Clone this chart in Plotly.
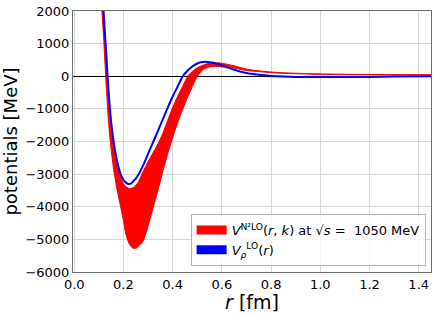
import plotly.graph_objects as go

# radial distance r [fm]
r = [0.10, 0.11, 0.12, 0.13, 0.14, 0.15, 0.16, 0.17, 0.18, 0.19, 0.20, 0.21, 0.22, 0.23,
     0.24, 0.25, 0.26, 0.28, 0.30, 0.32, 0.34, 0.36, 0.38, 0.40, 0.42, 0.44, 0.46, 0.48,
     0.50, 0.52, 0.54, 0.56, 0.58, 0.60, 0.65, 0.70, 0.75, 0.80, 0.85, 0.90, 1.00, 1.10,
     1.20, 1.30, 1.45]

# V^{N2LO}(r,k) band: upper and lower edges [MeV]
n2lo_upper = [4300, 2900, 1650, 400, -900, -1650, -2150, -2550, -2900, -3130, -3290, -3380,
              -3430, -3440, -3410, -3340, -3250, -2920, -2620, -2350, -2080, -1750, -1350,
              -960, -620, -320, -10, 150, 260, 330, 380, 405, 410, 400, 320, 220, 165, 130,
              105, 92, 72, 62, 55, 50, 45]
n2lo_lower = [3800, 2300, 1100, -300, -1450, -2250, -2850, -3300, -3700, -4050, -4430, -4850,
              -5080, -5210, -5275, -5275, -5220, -5050, -4600, -4050, -3500, -2920, -2380,
              -1880, -1430, -1030, -660, -320, -10, 180, 270, 300, 300, 285, 250, 175, 140,
              110, 90, 78, 58, 48, 42, 38, 35]

# V_rho^{LO}(r) [MeV]
v_rho = [4500, 3200, 1900, 700, -500, -1400, -2000, -2450, -2780, -3030, -3180, -3260,
         -3300, -3290, -3220, -3140, -3030, -2730, -2380, -2030, -1680, -1320, -960, -620,
         -320, -10, 170, 300, 390, 435, 440, 420, 380, 330, 200, 100, 45, 10, -10, -20, -25,
         -25, -20, -10, 0]

x_ticks = [0.0, 0.2, 0.4, 0.6, 0.8, 1.0, 1.2, 1.4]
y_ticks = [-6000, -5000, -4000, -3000, -2000, -1000, 0, 1000, 2000]

RED = "#ff0000"
BLUE = "#0000ff"
FONT = "DejaVu Sans"

fig = go.Figure()

# red band
fig.add_trace(go.Scatter(x=r, y=n2lo_lower, mode="lines", line=dict(color=RED, width=1, shape="spline", smoothing=0.6),
                         showlegend=False, hoverinfo="skip"))
fig.add_trace(go.Scatter(x=r, y=n2lo_upper, mode="lines", fill="tonexty", fillcolor=RED,
                         line=dict(color=RED, width=1, shape="spline", smoothing=0.6),
                         showlegend=False, hoverinfo="skip"))
# blue curve
fig.add_trace(go.Scatter(x=r, y=v_rho, mode="lines", line=dict(color=BLUE, width=2, shape="spline", smoothing=0.6),
                         showlegend=False))

# legend proxies (patches)
fig.add_trace(go.Scatter(x=[None], y=[None], mode="lines", line=dict(color=RED, width=9),
                         name="<i>V</i><sup>N²LO</sup>(<i>r</i>, <i>k</i>) at √<i>s</i> =  1050 MeV"))
fig.add_trace(go.Scatter(x=[None], y=[None], mode="lines", line=dict(color=BLUE, width=9),
                         name="<i>V</i><sub><i>ρ</i></sub><sup>LO</sup>(<i>r</i>)"))

axis_common = dict(showline=True, linecolor="#707070", linewidth=1, mirror=True,
                   showgrid=True, gridcolor="#d6d6d6", gridwidth=1, ticks="",
                   tickfont=dict(family=FONT, size=13, color="black"))

fig.update_xaxes(range=[-0.005, 1.45], tickvals=x_ticks, ticktext=[f"{v:.1f}" for v in x_ticks],
                 zeroline=False,
                 title=dict(text="<i>r</i> [fm]", font=dict(family=FONT, size=19, color="black"), standoff=4),
                 **axis_common)
fig.update_yaxes(range=[-6000, 2000], tickvals=y_ticks,
                 ticktext=[("\u2212" + str(abs(v))) if v < 0 else str(v) for v in y_ticks],
                 zeroline=True, zerolinecolor="black", zerolinewidth=1,
                 title=dict(text="potentials [MeV]", font=dict(family=FONT, size=18, color="black"), standoff=4),
                 **axis_common)

fig.update_layout(
    width=436, height=313,
    margin=dict(l=73, r=4, t=8, b=41),
    paper_bgcolor="white", plot_bgcolor="white",
    font=dict(family=FONT, size=13, color="black"),
    legend=dict(x=0.985, y=0.023, xanchor="right", yanchor="bottom", traceorder="normal",
                bgcolor="rgba(255,255,255,0.8)", bordercolor="#b0b0b0", borderwidth=1,
                font=dict(family=FONT, size=13, color="black"), tracegroupgap=0),
)

fig.write_html("out.html", config={"displayModeBar": False},
               post_script="document.body.style.margin='0';document.body.style.overflow='hidden';")
